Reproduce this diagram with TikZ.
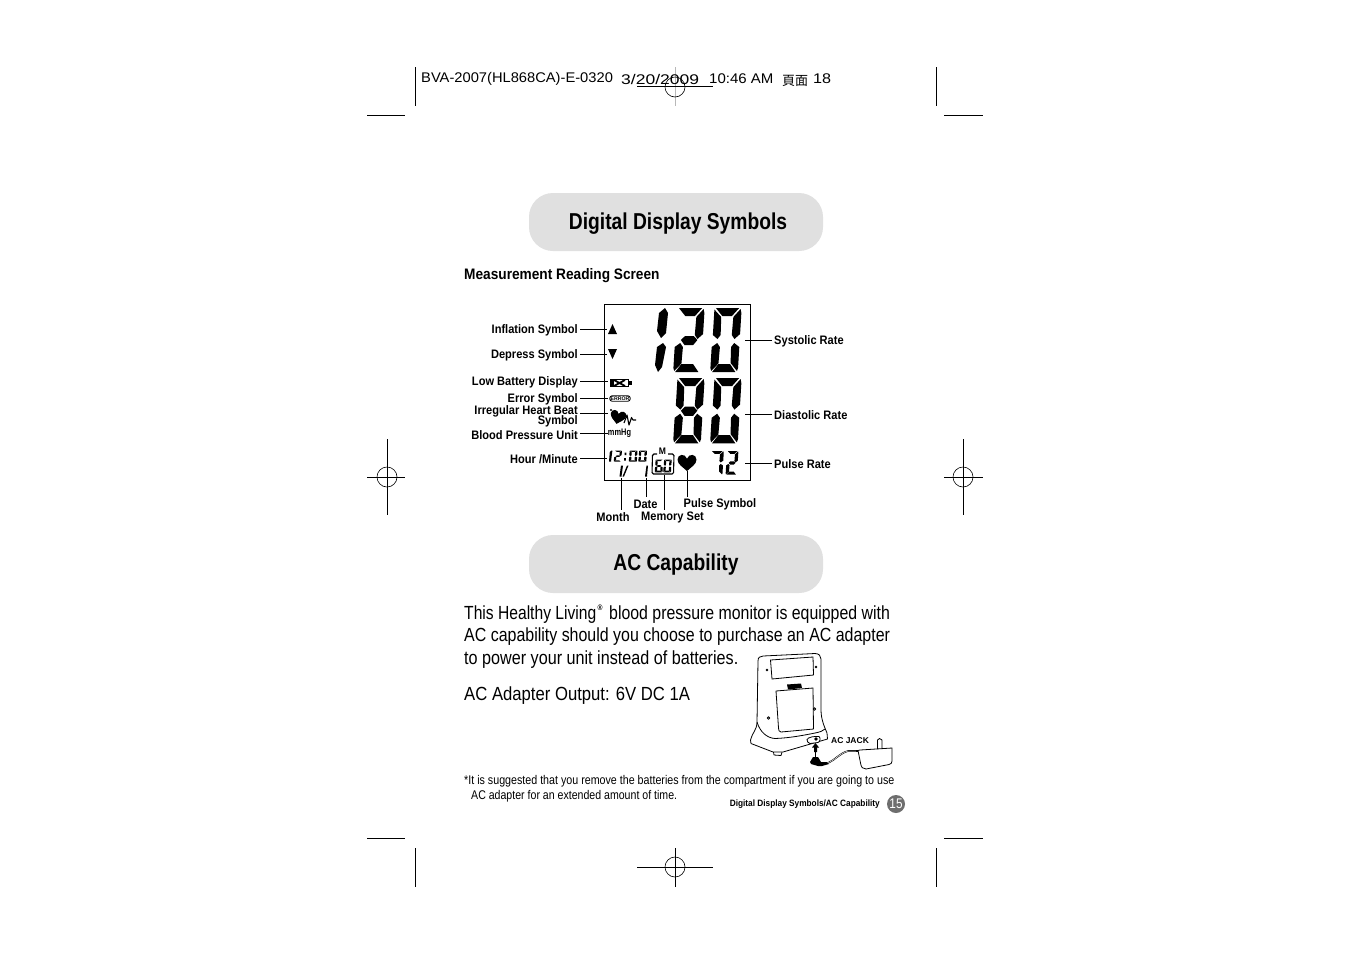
\documentclass[tikz,border=0pt]{standalone}
\usepackage{fontspec}
\setmainfont[FakeStretch=0.84]{Liberation Sans}
\newfontfamily\lblfont[FakeStretch=0.9]{Liberation Sans}
\newfontfamily\hdrfont[FakeStretch=1.05]{Liberation Sans}
\newfontfamily\plainfont{Liberation Sans}
\newfontfamily\cjk{Noto Sans CJK SC}
\definecolor{pill}{HTML}{E0E0E0}
\definecolor{badge}{HTML}{6E6E6E}
\definecolor{regline}{HTML}{B8B8B8}
\def\segA{(2,0)--(26,0)--(19,8)--(9,8)--cycle}
\def\segB{(27.5,1)--(28.5,5)--(28.5,26)--(23,31)--(20,27)--(20.5,9)--cycle}
\def\segC{(23,35)--(28.5,39)--(28.5,60)--(27.5,63)--(20.5,55)--(20,39)--cycle}
\def\segD{(8,56)--(20,56)--(26,64)--(2,64)--cycle}
\def\segE{(0,39)--(5.5,35)--(8.5,39)--(8,55.5)--(1,63)--(0,60)--cycle}
\def\segF{(0.5,1.5)--(8,9)--(8.5,27)--(5.5,31)--(0.5,27)--cycle}
\def\segG{(6,32)--(10,28)--(19,28)--(23,32)--(19,37)--(10,37)--cycle}
\newcommand\lcdseg[1]{\expandafter\fill\csname seg#1\endcsname;}
\newcommand\lcd[5]{\begin{scope}[shift={(#1,#2)},xslant=0.06,xscale=#3,yscale=#4]
\foreach \s in {#5}{\lcdseg{\s}}\end{scope}}
\newcommand\heartshape[3]{\begin{scope}[shift={(#1,#2)},scale=#3]
\fill (0,9) .. controls (-4,5) and (-10,2) .. (-10,-3) .. controls (-10,-9) and (-2,-10) .. (0,-4)
 .. controls (2,-10) and (10,-9) .. (10,-3) .. controls (10,2) and (4,5) .. (0,9) -- cycle;\end{scope}}
\tikzset{
 x=1pt,y=-1pt,
 titlepill/.style={fill=pill,draw=none,rounded corners=24pt,minimum width=294pt,minimum height=58pt,inner sep=0pt},
 titletext/.style={font=\lblfont\fontsize{23}{23}\bfseries\selectfont,xscale=0.93},
 lbl/.style={font=\lblfont\fontsize{12.3}{12}\bfseries\selectfont,inner sep=0pt},
 lbll/.style={lbl,anchor=east,inner xsep=2pt},
 lblr/.style={lbl,anchor=west,inner xsep=2pt},
 lead/.style={draw=black,line width=0.9pt},
 body/.style={font=\fontsize{19}{22}\selectfont,inner sep=0pt,anchor=west},
 foot/.style={font=\fontsize{12.6}{15}\selectfont,inner sep=0pt,anchor=west},
 crop/.style={draw=black,line width=0.9pt},
 hdr/.style={font=\hdrfont\fontsize{14}{14}\selectfont,inner sep=0pt,anchor=west},
 dev/.style={draw=black,line width=0.8pt,line join=round},
}
\begin{document}
\begin{tikzpicture}
\useasboundingbox[fill=white] (0,0) rectangle (1351,954);
% crop marks
\foreach \xa/\xb/\xc/\xd in {415/415/367/405,936/936/944/983}{
 \draw[crop] (\xa,67) -- (\xb,106); \draw[crop] (\xc,115) -- (\xd,115);
 \draw[crop] (\xa,848) -- (\xb,887); \draw[crop] (\xc,838) -- (\xd,838);}
% registration
\draw[regline,line width=0.9pt] (675,67) -- (675,106);
\draw[crop,line width=0.6pt] (675,87) circle (10);
\draw[crop,line width=0.7pt] (637,86) -- (713,86);
\draw[crop,line width=0.6pt] (675,867) circle (10);
\draw[crop,line width=0.7pt] (637,867) -- (713,867) (675,848) -- (675,887);
\draw[crop,line width=0.6pt] (387,477) circle (10) (963,477) circle (10);
\draw[crop,line width=0.7pt] (367,477) -- (405,477) (387,439) -- (387,515) (944,477) -- (983,477) (963,439) -- (963,515);
% header
\node[hdr,xscale=1.0] (h1) at (421,79) {BVA-2007(HL868CA)-E-0320};
\node[hdr,xscale=1.19] (h2) at (621,79) {3/20/2009};
\node[hdr,xscale=1.02] (h3) at (709,79) {10:46 AM};
\node[hdr,font=\cjk\fontsize{13}{13}\selectfont] (h4) at (782,81) {頁面};
\node[hdr,xscale=1.1] (h5) at (813,79) {18};
% titles
\node[titlepill] (p1) at (676,222) {};
\node[titletext] (t1) at (678,224) {Digital Display Symbols};
\node[titlepill] (p2) at (676,564) {};
\node[titletext] (t2) at (676,565) {AC Capability};
\node[lbl,anchor=west,font=\lblfont\fontsize{15.2}{15}\bfseries\selectfont] (mrs) at (464,275.5) {Measurement Reading Screen};
% screen
\node[draw=black,line width=1pt,minimum width=146pt,minimum height=176pt,inner sep=0pt] (scr) at (677,392) {};
% big digits
\fill (665,308) -- (668,313) -- (666,333) -- (661,338) -- (657,331) -- (659,313) -- cycle;
\fill (663,343) -- (666,347) -- (662,367) -- (658,372) -- (655,365) -- (657,347) -- cycle;
\lcd{677}{308}{0.97}{1}{A,B,G,E,D}
\lcd{714}{308}{0.97}{1}{A,B,C,D,E,F}
\lcd{677}{378}{0.97}{1.02}{A,B,C,D,E,F,G}
\lcd{714}{378}{0.97}{1.02}{A,B,C,D,E,F}
% small time
\fill (611.5,450.5) -- (612.4,450.5) -- (611,461.5) -- (609,461.5) -- (609.8,452) -- cycle;
\lcd{614.5}{450.5}{0.26}{0.175}{A,B,G,E,D}
\fill (624.5,452.5) rectangle (626.3,455) (624,458) rectangle (625.8,460.5);
\lcd{629.5}{450.5}{0.28}{0.175}{A,B,C,D,E,F}
\lcd{639}{450.5}{0.28}{0.175}{A,B,C,D,E,F}
% date
\fill (621,465.5) -- (623,465.5) -- (621.5,476.5) -- (619.5,476.5) -- cycle;
\fill (627,465.5) -- (628.5,465.5) -- (624,476.5) -- (622.5,476.5) -- cycle;
\fill (646.5,465.5) -- (648,465.5) -- (647,476.5) -- (645,476.5) -- cycle;
% memory
\draw[line width=1.1pt,rounded corners=1.5pt] (657,454) -- (652.5,454) -- (652,474) -- (673.5,474) -- (674,454) -- (668,454);
\node[inner sep=0pt,font=\plainfont\fontsize{9.5}{8}\bfseries\selectfont,xscale=0.9] (mem) at (662.5,451.5) {M};
\lcd{655.5}{459.5}{0.27}{0.2}{A,C,D,E,F,G}
\lcd{664}{459.5}{0.27}{0.2}{A,B,C,D,E,F}
\heartshape{687}{462.5}{0.95}
% 72
\lcd{711}{451}{0.45}{0.37}{A,B,C}
\lcd{727}{451}{0.4}{0.37}{A,B,G,E,D}
% arrows
\fill (612.5,324) -- (617,334) -- (608,334) -- cycle;
\fill (608,349) -- (617,349) -- (612.5,359) -- cycle;
% battery
\draw[line width=1.7pt] (611,379.5) rectangle (628.5,386.5);
\fill (610,379) rectangle (613.5,387);
\fill (629,381) rectangle (632,385);
\draw[line width=1.8pt] (614,380) -- (625,386) (625,380) -- (614,386);
% error
\node[draw=black,line width=0.9pt,rounded corners=2.5pt,minimum width=20.5pt,minimum height=5.5pt,inner sep=0pt,font=\plainfont\fontsize{5.2}{5}\bfseries\selectfont] (err) at (620,398.5) {ERROR};
% irregular heart
\begin{scope}[rotate around={-12:(618,417)}]\heartshape{618}{417}{0.78}\end{scope}
\fill (611,410) circle (1.2);
\draw[line width=1.1pt,line join=round] (624,423) -- (627,415) -- (629,425) -- (631.5,417.5) -- (633,420) -- (636,420);
\node[inner sep=0pt,font=\plainfont\fontsize{9.5}{8}\bfseries\selectfont,xscale=0.78] (mm) at (619.5,433.5) {mmHg};
% left labels
\node[lbll] (l1) at (580,330.8) {Inflation Symbol};
\node[lbll] (l2) at (580,355.8) {Depress Symbol};
\node[lbll] (l3) at (580,382.8) {Low Battery Display};
\node[lbll] (l4) at (580,399.8) {Error Symbol};
\node[lbll,align=right,font=\lblfont\fontsize{12.3}{10}\bfseries\selectfont] (l5) at (580,416.5) {Irregular Heart Beat\\[-3pt]Symbol};
\node[lbll] (l6) at (580,435.5) {Blood Pressure Unit};
\node[lbll] (l7) at (580,459.5) {Hour /Minute};
\node[lblr] (r1) at (772,341.5) {Systolic Rate};
\node[lblr] (r2) at (772,415.5) {Diastolic Rate};
\node[lblr] (r3) at (772,464.5) {Pulse Rate};
\node[lbl] (b1) at (613,517.5) {Month};
\node[lbl] (b2) at (645.5,504.5) {Date};
\node[lbl] (b3) at (672.5,517.5) {Memory Set};
\node[lbl] (b4) at (720,504.5) {Pulse Symbol};
\coordinate (c1) at (607,329); \coordinate (c2) at (607,354); \coordinate (c3) at (608,381);
\coordinate (c4) at (608,398); \coordinate (c5) at (608,413); \coordinate (c6) at (608,433); \coordinate (c7) at (607,458);
\coordinate (d1) at (745,340); \coordinate (d2) at (745,414); \coordinate (d3) at (745,463);
\draw[lead] (l1.east |- c1) -- (c1);
\draw[lead] (l2.east |- c2) -- (c2);
\draw[lead] (l3.east |- c3) -- (c3);
\draw[lead] (l4.east |- c4) -- (c4);
\draw[lead] (l5.east |- c5) -- (c5);
\draw[lead] (l6.east |- c6) -- (c6);
\draw[lead] (l7.east |- c7) -- (c7);
\draw[lead] (r1.west |- d1) -- (d1);
\draw[lead] (r2.west |- d2) -- (d2);
\draw[lead] (r3.west |- d3) -- (d3);
\coordinate (e1) at (621.5,478); \coordinate (e2) at (646.5,478); \coordinate (e3) at (664,475); \coordinate (e4) at (687,471);
\draw[lead] (e1) -- (621.5,510);
\draw[lead] (e2) -- (646.5,497);
\draw[lead] (e3) -- (664,510);
\draw[lead] (e4) -- (687,497);
% body text
\node[body,xscale=0.98] (bt1) at (464,615) {This Healthy Living};
\node[inner sep=0pt,font=\fontsize{8}{8}\bfseries\selectfont] (reg) at (600,608) {®};
\node[body,xscale=0.995] (bt1b) at (609,615) {blood pressure monitor is equipped with};
\node[body] (bt2) at (464,637) {AC capability should you choose to purchase an AC adapter};
\node[body,xscale=1.013] (bt3) at (464,660) {to power your unit instead of batteries.};
\node[body,xscale=1.045] (bt4) at (464,696) {AC Adapter Output: 6V DC 1A};
\node[foot,xscale=1.01] (f1) at (464,781) {*It is suggested that you remove the batteries from the compartment if you are going to use};
\node[foot,xscale=1.0] (f2) at (471,796) {AC adapter for an extended amount of time.};
\node[lbl,anchor=east,font=\lblfont\fontsize{9.2}{10}\bfseries\selectfont] (pg) at (880,804) {Digital Display Symbols/AC Capability};
\node[circle,fill=badge,minimum size=18pt,inner sep=0pt,text=white,font=\fontsize{14}{14}\selectfont] (num) at (896,804) {15};
% device
\draw[dev] (758,661) .. controls (758,657) and (760,656.5) .. (763,656)
 -- (815,653.5) .. controls (819,653.5) and (821,656) .. (821,659)
 -- (821,710) .. controls (821,720) and (825,728) .. (827,733) -- (827.5,739)
 -- (783,752) -- (773,752) -- (751,743.5) -- (750.5,740) .. controls (752,733) and (757,730) .. (757,722) -- cycle;
\draw[dev] (757,722) .. controls (760,732) and (767,738) .. (775,738.5) .. controls (790,738) and (805,735) .. (815,733) .. controls (820,732) and (823,731) .. (825,729);
\draw[dev] (770.5,660) -- (813,657) -- (813.5,675) -- (772,679) -- cycle;
\draw[dev] (776,691) -- (813,688) -- (813.5,729) -- (781,732) .. controls (779,732) and (778.5,730) .. (778.5,728) -- cycle;
\fill (787,684.5) -- (801,683.5) -- (802,688) -- (788,689.5) -- cycle;
\fill (767,670) circle (1.4) (816,667) circle (1.4);
\draw[dev] (768.5,718) circle (1.3) (814.5,709) circle (1.3);
\draw[dev] (773.5,752) -- (774,755) -- (781,755.5) -- (782,752.2);
\draw[dev,fill=white] (807,739.5) .. controls (808,737) and (815,736) .. (819,736.5) .. controls (821,738) and (820,742) .. (818,742.5) -- (810,743.5) .. controls (808,743.5) and (807,741) .. (807,739.5) -- cycle;
\fill (816,739) circle (1.8);
\fill (815.5,743) -- (819,747.5) -- (817,747.5) -- (817,752) -- (814,752) -- (814,747.5) -- (812,747.5) -- cycle;
\draw[dev] (815.5,752) -- (815.5,757);
\fill (813,757) -- (818,757) -- (821,762) -- (827,762) -- (829,764) -- (822,766) -- (818,766) -- (811,764) -- (810,762) -- cycle;
\draw[line width=1.6pt] (828,763) .. controls (835,760) and (840,753) .. (848,751) -- (858,751);
\draw[white,line width=0.5pt] (828,763) .. controls (835,760) and (840,753) .. (848,751) -- (856,751);
\draw[dev] (858,750.5) -- (860,750) -- (892,748) -- (892,761) .. controls (892,763) and (891,764) .. (889,764.5) -- (866,769) .. controls (863,769.5) and (861,767) .. (860.5,763) -- cycle;
\draw[dev] (877.5,749) -- (877.5,740) -- (879.5,738.5) -- (882,740) -- (882,748.5);
\node[inner sep=0pt,font=\plainfont\fontsize{8.5}{8}\bfseries\selectfont] (jack) at (850,741) {AC JACK};
\end{tikzpicture}
\end{document}
